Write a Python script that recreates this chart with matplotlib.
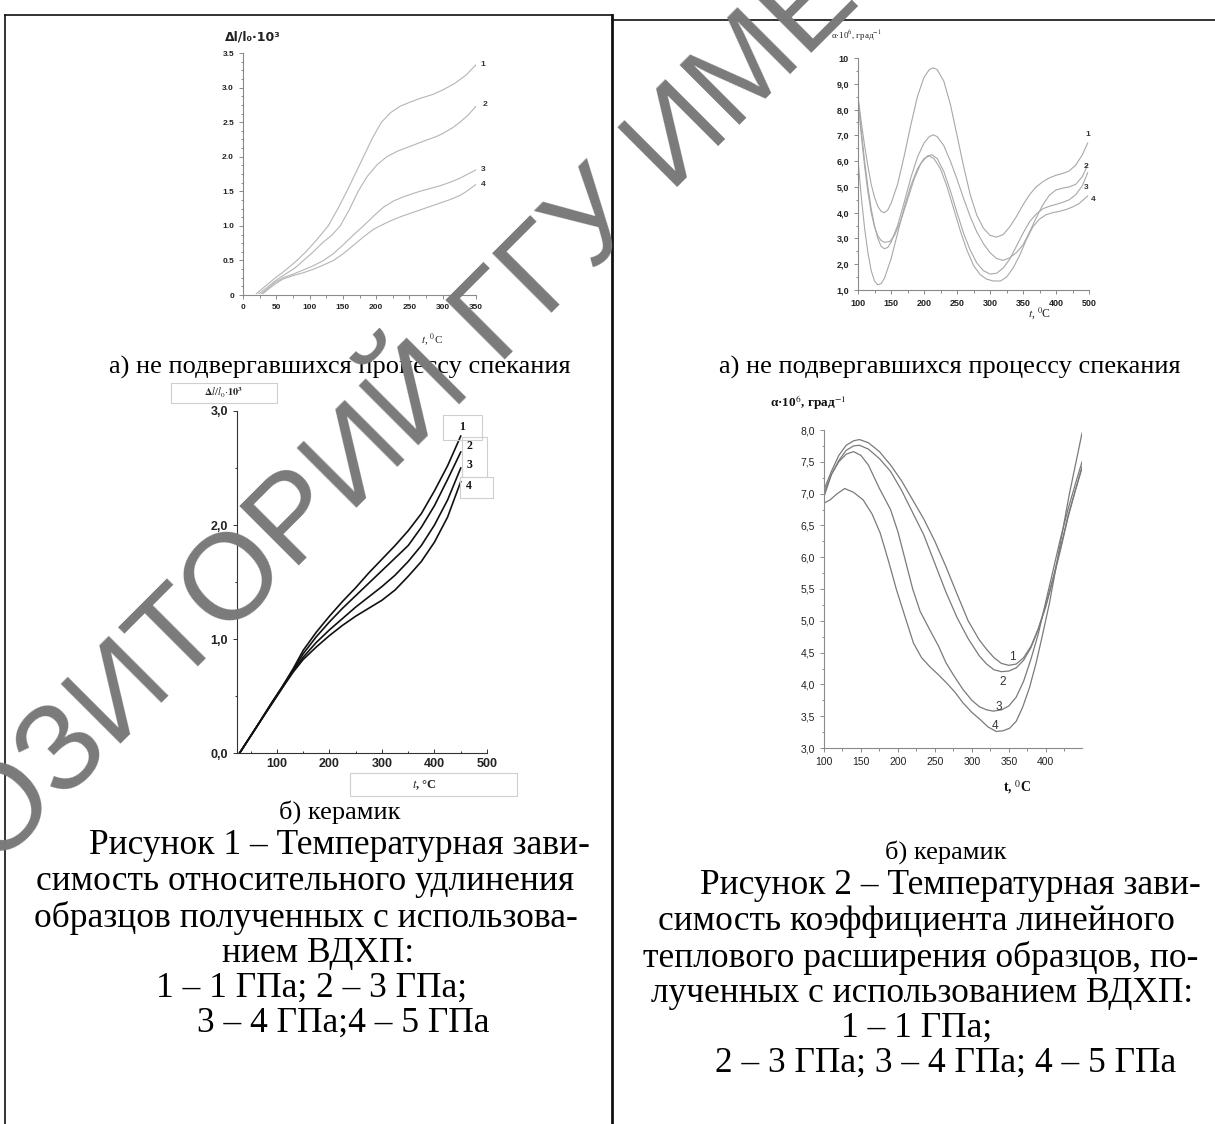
import matplotlib

matplotlib.use("Agg")
import matplotlib.pyplot as plt
from matplotlib.lines import Line2D
from matplotlib.patches import Rectangle
from matplotlib.ticker import MultipleLocator

plt.rcParams["mathtext.fontset"] = "stix"

W, H = 1215, 1124

# --- Fig.1a: relative elongation, not sintered ---
a1_x1 = [20, 30, 40, 50, 60, 70, 81, 95, 110, 128, 142, 156, 168, 181, 195, 208, 222, 236, 251, 268, 285, 301, 318, 335, 350]
a1_y1 = [0.02, 0.1, 0.18, 0.26, 0.33, 0.41, 0.5, 0.63, 0.79, 1.0, 1.24, 1.5, 1.74, 2.0, 2.28, 2.5, 2.64, 2.73, 2.79, 2.85, 2.9, 2.97, 3.06, 3.18, 3.33]
a1_x2 = [24, 35, 45, 55, 65, 78, 91, 105, 120, 134, 146, 160, 173, 187, 201, 216, 232, 251, 270, 290, 301, 315, 326, 338, 350]
a1_y2 = [0.02, 0.1, 0.18, 0.25, 0.31, 0.39, 0.5, 0.62, 0.76, 0.87, 1.0, 1.24, 1.5, 1.72, 1.88, 2.0, 2.08, 2.15, 2.22, 2.29, 2.34, 2.42, 2.5, 2.6, 2.73]
a1_x3 = [28, 38, 48, 60, 75, 90, 105, 121, 136, 151, 166, 181, 196, 211, 226, 241, 256, 266, 281, 296, 311, 326, 340, 350]
a1_y3 = [0.02, 0.1, 0.18, 0.25, 0.3, 0.36, 0.42, 0.5, 0.6, 0.73, 0.87, 1.0, 1.14, 1.27, 1.36, 1.42, 1.47, 1.5, 1.54, 1.58, 1.63, 1.69, 1.76, 1.81]
a1_x4 = [30, 40, 50, 60, 75, 90, 105, 120, 136, 151, 166, 181, 196, 206, 221, 236, 251, 266, 281, 296, 311, 326, 336, 350]
a1_y4 = [0.02, 0.1, 0.17, 0.23, 0.28, 0.32, 0.37, 0.43, 0.5, 0.6, 0.72, 0.84, 0.95, 1.0, 1.07, 1.13, 1.18, 1.23, 1.28, 1.33, 1.38, 1.44, 1.5, 1.6]
a1_yticks = [0, 0.5, 1.0, 1.5, 2.0, 2.5, 3.0, 3.5]
a1_ylabels = ["0", "0.5", "1.0", "1.5", "2.0", "2.5", "3.0", "3.5"]
a1_xticks = [0, 50, 100, 150, 200, 250, 300, 350]
a1_tags = [(356, 3.33, "1"), (360, 2.75, "2"), (358, 1.81, "3"), (357, 1.6, "4")]

# --- Fig.2a: CTE, not sintered ---
a2_x1 = [100, 105, 110, 115, 120, 125, 130, 135, 140, 145, 150, 160, 170, 180, 190, 200, 208, 214, 220, 230, 240, 250, 260, 270, 280, 290, 300, 310, 320, 330, 340, 350, 360, 370, 380, 390, 400, 410, 420, 430, 440, 448]
a2_y1 = [8.5, 7.5, 6.6, 5.8, 5.1, 4.6, 4.25, 4.05, 4.0, 4.1, 4.35, 5.1, 6.2, 7.4, 8.5, 9.25, 9.55, 9.62, 9.55, 9.1, 8.2, 7.0, 5.8, 4.7, 3.9, 3.4, 3.12, 3.05, 3.15, 3.45, 3.85, 4.3, 4.7, 5.0, 5.2, 5.35, 5.45, 5.52, 5.62, 5.85, 6.25, 6.7]
a2_x2 = [100, 105, 110, 115, 120, 125, 130, 135, 140, 145, 150, 160, 170, 180, 190, 200, 208, 214, 220, 230, 240, 250, 260, 270, 280, 290, 300, 310, 320, 330, 340, 350, 360, 370, 380, 390, 400, 410, 420, 430, 440, 448]
a2_y2 = [8.45, 7.2, 6.0, 5.0, 4.15, 3.5, 3.0, 2.7, 2.6, 2.65, 2.85, 3.5, 4.4, 5.35, 6.15, 6.7, 6.95, 7.02, 6.95, 6.6, 6.0, 5.3, 4.55, 3.85, 3.25, 2.8, 2.45, 2.22, 2.15, 2.25, 2.45, 2.75, 3.25, 3.8, 4.3, 4.68, 4.88, 4.95, 5.0, 5.1, 5.4, 5.85]
a2_x3 = [100, 105, 110, 115, 120, 125, 130, 135, 140, 148, 155, 165, 175, 185, 195, 205, 212, 220, 230, 240, 250, 260, 270, 280, 290, 300, 310, 320, 330, 340, 350, 360, 370, 380, 390, 400, 410, 420, 430, 440, 448]
a2_y3 = [8.4, 7.0, 5.8, 4.8, 4.0, 3.45, 3.1, 2.92, 2.85, 2.88, 3.1, 3.7, 4.5, 5.3, 5.9, 6.2, 6.25, 6.1, 5.6, 4.85, 4.0, 3.2, 2.55, 2.05, 1.75, 1.62, 1.65, 1.85, 2.2, 2.7, 3.2, 3.65, 3.95, 4.15, 4.25, 4.32, 4.4, 4.5, 4.7, 5.05, 5.55]
a2_x4 = [100, 105, 110, 115, 120, 125, 130, 135, 140, 150, 160, 170, 180, 190, 200, 208, 215, 225, 235, 245, 255, 265, 275, 285, 295, 305, 316, 325, 335, 345, 355, 365, 375, 385, 395, 405, 415, 425, 435, 448]
a2_y4 = [6.05, 4.6, 3.4, 2.45, 1.75, 1.35, 1.2, 1.25, 1.45, 2.2, 3.2, 4.2, 5.05, 5.7, 6.1, 6.2, 6.1, 5.7, 5.0, 4.15, 3.3, 2.55, 1.95, 1.6, 1.42, 1.35, 1.35, 1.5, 1.85, 2.35, 2.95, 3.45, 3.75, 3.92, 4.0, 4.05, 4.12, 4.22, 4.35, 4.65]
a2_yticks = [1, 2, 3, 4, 5, 6, 7, 8, 9, 10]
a2_ylabels = ["1,0", "2,0", "3,0", "4,0", "5,0", "6,0", "7,0", "8,0", "9,0", "10"]
a2_xticks = [100, 150, 200, 250, 300, 350, 400, 450]
a2_xlabels = ["100", "150", "200", "250", "300", "350", "400", "500"]
a2_tags = [(448, 7.05, "1"), (445, 5.81, "2"), (446, 4.96, "3"), (457, 4.53, "4")]

# --- Fig.1b: relative elongation, ceramics ---
b1_x = [29, 60, 90, 110, 131, 150, 175, 200, 225, 250, 275, 300, 325, 350, 375, 400, 425, 450]
b1_y1 = [0, 0.22, 0.44, 0.58, 0.74, 0.9, 1.06, 1.2, 1.33, 1.45, 1.58, 1.7, 1.82, 1.95, 2.1, 2.3, 2.52, 2.78]
b1_y2 = [0, 0.22, 0.44, 0.58, 0.73, 0.87, 1.02, 1.15, 1.27, 1.38, 1.49, 1.6, 1.71, 1.82, 1.98, 2.17, 2.4, 2.64]
b1_y3 = [0, 0.22, 0.43, 0.57, 0.72, 0.84, 0.97, 1.08, 1.18, 1.28, 1.37, 1.46, 1.56, 1.68, 1.82, 2.0, 2.22, 2.5]
b1_y4 = [0, 0.22, 0.43, 0.57, 0.71, 0.82, 0.93, 1.03, 1.12, 1.2, 1.27, 1.34, 1.43, 1.55, 1.68, 1.85, 2.07, 2.38]
b1_yticks = [0, 1, 2, 3]
b1_ylabels = ["0,0", "1,0", "2,0", "3,0"]
b1_xticks = [100, 200, 300, 400, 500]
b1_tags = [(452, 2.86, "1"), (466, 2.69, "2"), (466, 2.53, "3"), (466, 2.34, "4")]

# --- Fig.2b: CTE, ceramics ---
b2_x1 = [100, 110, 120, 130, 140, 148, 160, 175, 190, 205, 220, 235, 250, 265, 280, 295, 310, 320, 330, 340, 350, 360, 370, 380, 390, 400, 410, 420, 430, 440, 449]
b2_y1 = [7.06, 7.35, 7.6, 7.76, 7.83, 7.85, 7.8, 7.66, 7.45, 7.2, 6.9, 6.6, 6.25, 5.85, 5.42, 5.0, 4.7, 4.55, 4.42, 4.33, 4.3, 4.32, 4.42, 4.6, 4.88, 5.25, 5.68, 6.15, 6.65, 7.05, 7.4]
b2_x2 = b2_x1
b2_y2 = [6.95, 7.3, 7.52, 7.68, 7.75, 7.76, 7.7, 7.55, 7.35, 7.05, 6.7, 6.35, 5.9, 5.45, 5.05, 4.72, 4.45, 4.32, 4.23, 4.2, 4.21, 4.26, 4.38, 4.58, 4.87, 5.22, 5.65, 6.12, 6.62, 7.05, 7.42]
b2_x3 = [100, 110, 120, 130, 140, 150, 160, 175, 190, 200, 210, 220, 230, 243, 255, 265, 275, 288, 300, 310, 320, 329, 340, 350, 360, 370, 380, 390, 400, 410, 420, 430, 440, 449]
b2_y3 = [7.0, 7.3, 7.5, 7.62, 7.66, 7.6, 7.45, 7.08, 6.75, 6.4, 5.95, 5.5, 5.15, 4.86, 4.6, 4.34, 4.15, 3.92, 3.75, 3.65, 3.6, 3.58, 3.6, 3.66, 3.8, 4.05, 4.4, 4.8, 5.3, 5.8, 6.3, 6.75, 7.15, 7.5]
b2_x4 = [100, 108, 118, 128, 140, 153, 165, 176, 187, 198, 210, 221, 232, 243, 255, 266, 277, 288, 300, 311, 322, 333, 342, 351, 360, 369, 378, 387, 396, 405, 414, 423, 432, 441, 449]
b2_y4 = [6.85, 6.9, 7.0, 7.08, 7.02, 6.9, 6.68, 6.38, 5.95, 5.49, 5.05, 4.65, 4.42, 4.28, 4.15, 4.02, 3.88, 3.71, 3.56, 3.45, 3.33, 3.26, 3.27, 3.31, 3.42, 3.65, 3.95, 4.34, 4.8, 5.28, 5.85, 6.43, 7.0, 7.5, 7.95]
b2_yticks = [3.0, 3.5, 4.0, 4.5, 5.0, 5.5, 6.0, 6.5, 7.0, 7.5, 8.0]
b2_ylabels = ["3,0", "3,5", "4,0", "4,5", "5,0", "5,5", "6,0", "6,5", "7,0", "7,5", "8,0"]
b2_xticks = [100, 150, 200, 250, 300, 350, 400]
b2_tags = [(355, 4.43, "1"), (342, 4.03, "2"), (336, 3.65, "3"), (331, 3.35, "4")]

sub_a = "а) не подвергавшихся процессу спекания"
sub_b = "б) керамик"
cap1 = ["Рисунок 1 – Температурная зави-", "симость относительного удлинения",
        "образцов полученных с использова-", "нием ВДХП:", "1 – 1 ГПа; 2 – 3 ГПа;", "3 – 4 ГПа;4 – 5 ГПа"]
cap1_x = [339, 305, 306, 318, 312, 343]
cap1_y = [846, 882, 918, 953, 988, 1023]
cap2 = ["Рисунок 2 – Температурная зави-", "симость коэффициента линейного",
        "теплового расширения образцов, по-", "лученных с использованием ВДХП:", "1 – 1 ГПа;",
        "2 – 3 ГПа; 3 – 4 ГПа; 4 – 5 ГПа"]
cap2_x = [950, 916, 921, 922, 917, 946]
cap2_y = [886, 922, 958, 993, 1028, 1063]
watermark = "РЕПОЗИТОРИЙ ГГУ ИМЕНИ Ф. СКОРИНЫ"

SERIF = "Liberation Serif"
SANS = "Liberation Sans"

fig = plt.figure(figsize=(W / 100, H / 100), dpi=100)


def px_box(left, top, right, bottom):
    return [left / W, 1 - bottom / H, (right - left) / W, (bottom - top) / H]


def ftext(x, y, s, **kw):
    return fig.text(x / W, 1 - y / H, s, **kw)


def style_axes(ax, color, size, weight="normal"):
    for side in ("top", "right"):
        ax.spines[side].set_visible(False)
    for side in ("left", "bottom"):
        ax.spines[side].set_color(color)
        ax.spines[side].set_linewidth(0.8)
    ax.tick_params(which="both", colors=color, labelcolor="#222222", labelsize=size, width=0.7)
    ax.tick_params(which="major", length=3)
    ax.tick_params(which="minor", length=1.8)
    for lab in ax.get_xticklabels() + ax.get_yticklabels():
        lab.set_fontfamily(SANS)
        lab.set_fontweight(weight)
    ax.patch.set_alpha(0)


# Fig.1a
ax = fig.add_axes(px_box(243, 53, 476, 295))
for xs, ys in [(a1_x1, a1_y1), (a1_x2, a1_y2), (a1_x3, a1_y3), (a1_x4, a1_y4)]:
    ax.plot(xs, ys, color="#b5b5b5", lw=0.8)
ax.set_xlim(0, 350)
ax.set_ylim(0, 3.5)
ax.set_yticks(a1_yticks, a1_ylabels)
ax.set_xticks(a1_xticks)
ax.yaxis.set_minor_locator(MultipleLocator(0.125))
ax.xaxis.set_minor_locator(MultipleLocator(25))
style_axes(ax, "#8a8a8a", 6, "bold")
for x, y, s in a1_tags:
    ax.text(x, y, s, fontsize=6, fontweight="bold", family=SANS, color="#333", ha="left", va="center", clip_on=False)
ftext(253, 37, "Δl/l₀·10³", fontsize=9, fontweight="bold", family="DejaVu Sans", color="#222", ha="center", va="center")
ftext(432, 340, r"$t$, $^0$C", fontsize=8, family=SERIF, color="#222", ha="center", va="center")

# Fig.2a
ax = fig.add_axes(px_box(858, 58, 1089, 290))
for xs, ys in [(a2_x1, a2_y1), (a2_x2, a2_y2), (a2_x3, a2_y3), (a2_x4, a2_y4)]:
    ax.plot(xs, ys, color="#a8a8a8", lw=0.8)
ax.set_xlim(100, 450)
ax.set_ylim(1, 10)
ax.set_yticks(a2_yticks, a2_ylabels)
ax.set_xticks(a2_xticks, a2_xlabels)
ax.yaxis.set_minor_locator(MultipleLocator(0.5))
ax.xaxis.set_minor_locator(MultipleLocator(25))
style_axes(ax, "#8a8a8a", 6.5, "bold")
for x, y, s in a2_tags:
    ax.text(x, y, s, fontsize=6, fontweight="bold", family=SANS, color="#333", ha="center", va="center", clip_on=False)
ftext(856, 36, r"α·10$^6$, град$^{-1}$", fontsize=6.5, family=SERIF, color="#222", ha="center", va="center")
ftext(1040, 313, r"$t$, $^0$C", fontsize=8.5, family=SERIF, color="#222", ha="center", va="center")

# Fig.1b
ax = fig.add_axes(px_box(237, 411, 487, 753))
for ys in (b1_y1, b1_y2, b1_y3, b1_y4):
    ax.plot(b1_x, ys, color="#111111", lw=1.2)
ax.set_xlim(24, 500)
ax.set_ylim(0, 3)
ax.set_yticks(b1_yticks, b1_ylabels)
ax.set_xticks(b1_xticks)
ax.yaxis.set_minor_locator(MultipleLocator(0.5))
ax.xaxis.set_minor_locator(MultipleLocator(50))
style_axes(ax, "#333333", 9, "bold")
ax.tick_params(axis="x", which="both", direction="in")
for x, y, s in b1_tags:
    ax.text(x, y, s, fontsize=8.5, fontweight="bold", family=SERIF, color="#111", ha="center", va="center", clip_on=False)
for l, t, r, b in [(443, 415, 482, 440), (462, 437, 487, 477), (460, 477, 493, 498)]:
    fig.add_artist(Rectangle((l / W, 1 - b / H), (r - l) / W, (b - t) / H, transform=fig.transFigure,
                             fill=False, ec="#cfcfcf", lw=0.8))
fig.add_artist(Rectangle((171 / W, 1 - 403 / H), 106 / W, 20 / H, transform=fig.transFigure,
                         fill=False, ec="#cfcfcf", lw=0.8))
ftext(224, 393, r"$\mathbf{\Delta}\mathit{l/l_0}{\cdot}\mathbf{10^3}$", fontsize=7.5, color="#222", ha="center", va="center")
fig.add_artist(Rectangle((350 / W, 1 - 796 / H), 167 / W, 23 / H, transform=fig.transFigure,
                         fill=False, ec="#cfcfcf", lw=0.8))
ftext(424, 785, r"$\mathit{t}$, °C", fontsize=9, fontweight="bold", family=SERIF, color="#222", ha="center", va="center")

# Fig.2b
ax = fig.add_axes(px_box(824, 430, 1082, 748))
for xs, ys in [(b2_x1, b2_y1), (b2_x2, b2_y2), (b2_x3, b2_y3), (b2_x4, b2_y4)]:
    ax.plot(xs, ys, color="#7a7a7a", lw=0.9)
ax.set_xlim(100, 449)
ax.set_ylim(3, 8)
ax.set_yticks(b2_yticks, b2_ylabels)
ax.set_xticks(b2_xticks)
ax.yaxis.set_minor_locator(MultipleLocator(0.25))
ax.xaxis.set_minor_locator(MultipleLocator(25))
style_axes(ax, "#8a8a8a", 7.5)
for x, y, s in b2_tags:
    ax.text(x, y, s, fontsize=8.5, family=SANS, color="#333", ha="center", va="center")
ftext(808, 403, r"α·10$^6$, град$^{-1}$", fontsize=9.5, fontweight="bold", family=SERIF,
      color="#111", ha="center", va="center")
ftext(1017, 787, r"t, $^0$C", fontsize=10, fontweight="bold", family=SERIF, color="#111", ha="center", va="center")

# captions
ftext(340, 367, sub_a, fontsize=19, family=SERIF, ha="center", va="center")
ftext(950, 367, sub_a, fontsize=19, family=SERIF, ha="center", va="center")
ftext(340, 812, sub_b, fontsize=19, family=SERIF, ha="center", va="center")
ftext(946, 852, sub_b, fontsize=19, family=SERIF, ha="center", va="center")
for s, x, y in zip(cap1, cap1_x, cap1_y):
    ftext(x, y, s, fontsize=25.5, family=SERIF, ha="center", va="center")
for s, x, y in zip(cap2, cap2_x, cap2_y):
    ftext(x, y, s, fontsize=25.5, family=SERIF, ha="center", va="center")

# table borders
for xs, ys, lw in [((5, 612), (15, 15), 1.2), ((612, 1215), (20, 20), 1.2),
                   ((5, 5), (15, 1124), 1.2), ((612, 612), (15, 1124), 2.0)]:
    fig.add_artist(Line2D([x / W for x in xs], [1 - y / H for y in ys], transform=fig.transFigure,
                          color="#111", lw=lw))

# watermark
fig.text(-205 / W, 1 - 1025 / H, watermark, fontsize=88, family=SANS,
         color="#7a7a7a", rotation=45, rotation_mode="anchor", ha="left", va="center", zorder=10)

fig.savefig("out.png", dpi=100)
